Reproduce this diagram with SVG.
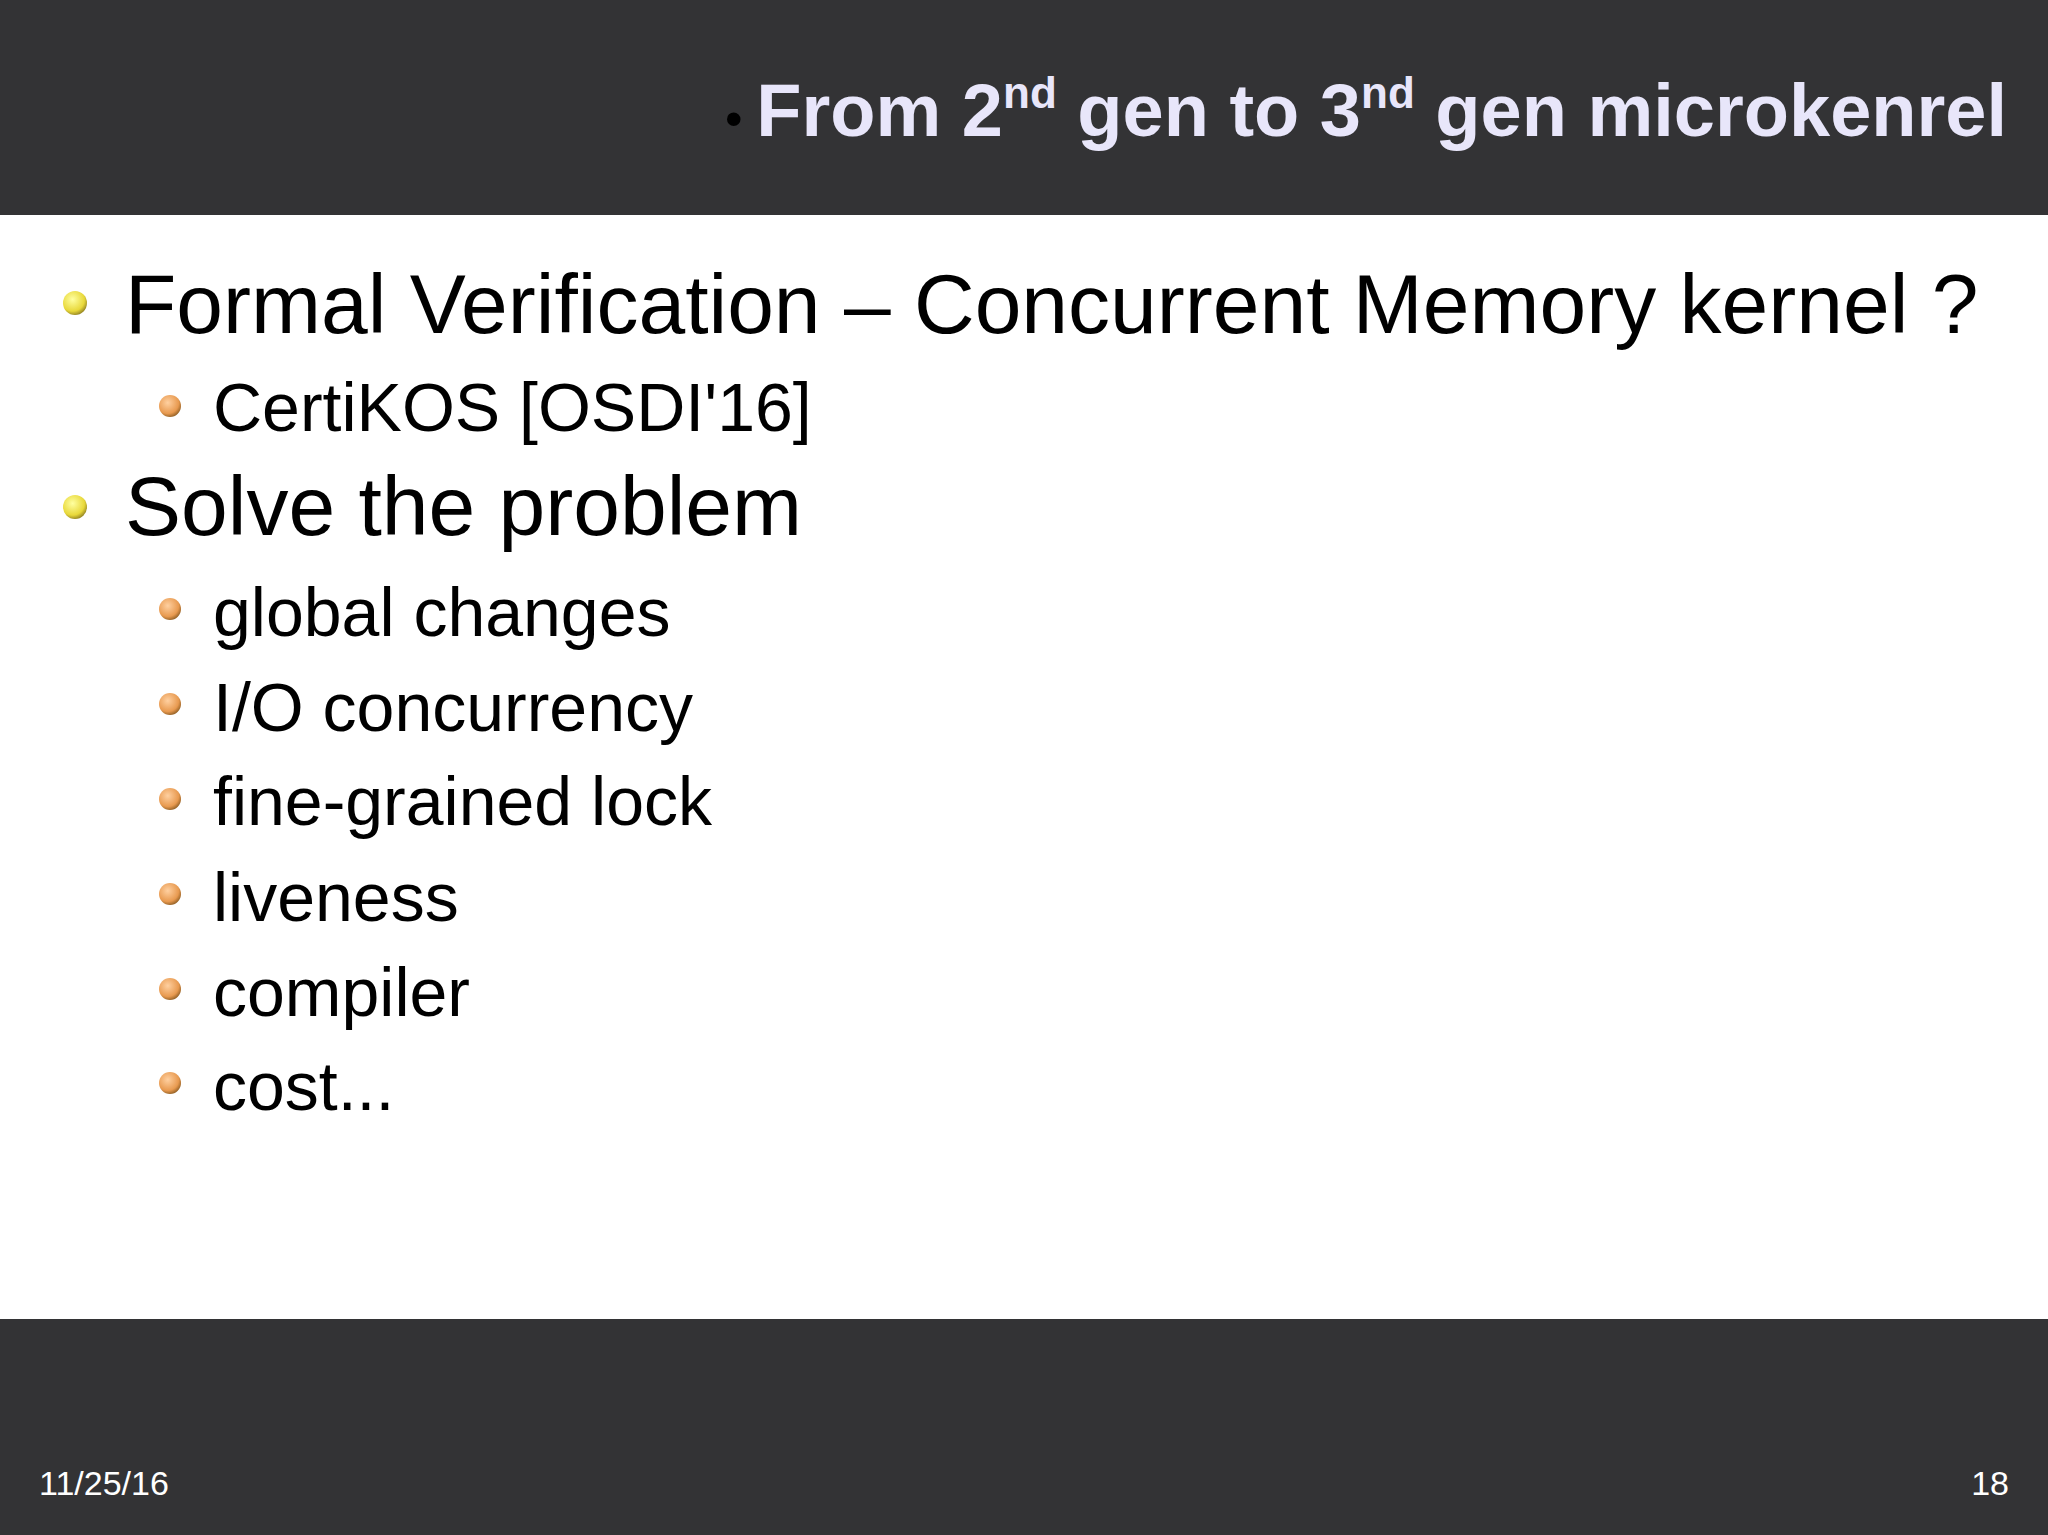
<svg xmlns="http://www.w3.org/2000/svg" width="2048" height="1535" viewBox="0 0 2048 1535">
<defs>
<radialGradient id="gy" cx="0.4" cy="0.35" r="0.7"><stop offset="0" stop-color="#ffffa0"/><stop offset="0.7" stop-color="#e8d83a"/><stop offset="1" stop-color="#8a7a20"/></radialGradient>
<radialGradient id="go" cx="0.4" cy="0.35" r="0.7"><stop offset="0" stop-color="#ffd0a0"/><stop offset="0.7" stop-color="#e89a50"/><stop offset="1" stop-color="#8a5a20"/></radialGradient>
</defs>
<style>
.t{font-family:"Liberation Sans",Arial,sans-serif;fill:#000}
.l1{font-size:84px}.l2{font-size:68px}
.f{font-family:"Liberation Sans",Arial,sans-serif;font-size:34px;fill:#fff}
</style>
<rect width="2048" height="1535" fill="#fff"/>
<rect width="2048" height="215" fill="#333335"/>
<rect y="1319" width="2048" height="216" fill="#333335"/>
<g id="title">
<text x="2007" y="136" text-anchor="end" font-family="Liberation Sans,Arial,sans-serif" font-weight="bold" font-size="74" fill="#e8e6fa"><tspan fill="#000" font-weight="normal" font-size="50">• </tspan>From 2<tspan font-size="44" dy="-28">nd</tspan><tspan dy="28"> gen to 3</tspan><tspan font-size="44" dy="-28">nd</tspan><tspan dy="28"> gen microkenrel</tspan></text>
</g>
<g id="bullets">
<circle cx="75" cy="303" r="12" fill="url(#gy)"/>
<circle cx="75" cy="507" r="12" fill="url(#gy)"/>
<circle cx="170" cy="406" r="11" fill="url(#go)"/>
<circle cx="170" cy="609" r="11" fill="url(#go)"/>
<circle cx="170" cy="704" r="11" fill="url(#go)"/>
<circle cx="170" cy="799" r="11" fill="url(#go)"/>
<circle cx="170" cy="894" r="11" fill="url(#go)"/>
<circle cx="170" cy="989" r="11" fill="url(#go)"/>
<circle cx="170" cy="1083" r="11" fill="url(#go)"/>
</g>
<g id="body">
<text class="t l1" x="125" y="333">Formal Verification – Concurrent Memory kernel ?</text>
<text class="t l2" x="213" y="431">CertiKOS [OSDI'16]</text>
<text class="t l1" x="125" y="535">Solve the problem</text>
<text class="t l2" x="213" y="636">global changes</text>
<text class="t l2" x="213" y="731">I/O concurrency</text>
<text class="t l2" x="213" y="825">fine-grained lock</text>
<text class="t l2" x="213" y="921">liveness</text>
<text class="t l2" x="213" y="1016">compiler</text>
<text class="t l2" x="213" y="1110">cost...</text>
</g>
<g id="footer">
<text class="f" x="39" y="1495">11/25/16</text>
<text class="f" x="2009" y="1495" text-anchor="end">18</text>
</g>
</svg>
